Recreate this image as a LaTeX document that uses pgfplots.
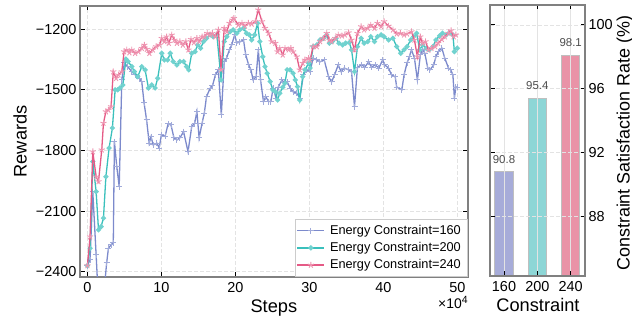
\documentclass[border=0pt]{standalone}
\usepackage{fontspec}
\setmainfont{Liberation Sans}
\usepackage{pgfplots}
\pgfplotsset{compat=1.18}
\definecolor{cA}{RGB}{124,138,204}
\definecolor{cB}{RGB}{58,192,188}
\definecolor{cC}{RGB}{229,90,134}
\definecolor{bA}{RGB}{167,172,217}
\definecolor{bB}{RGB}{141,214,214}
\definecolor{bC}{RGB}{233,147,167}
\definecolor{frame}{RGB}{128,128,128}
\newcommand{\tickfont}{\fontsize{14.5}{16}\selectfont}
\newcommand{\labfont}{\fontsize{18.3}{20}\selectfont}
\begin{document}
\begin{tikzpicture}
\begin{axis}[
  at={(80bp,46.3bp)}, anchor=south west, scale only axis,
  width=387.7bp, height=270.7bp,
  clip mode=individual,
  xmin=-1, xmax=51.4, ymin=-2425, ymax=-1085,
  xtick={0,10,20,30,40,50}, xticklabels={0,10,20,30,40,50},
  ytick={-2400,-2100,-1800,-1500,-1200},
  yticklabels={−2400,−2100,−1800,−1500,−1200},
  xticklabel style={font=\tickfont, inner sep=0pt, yshift=-5.2bp},
  yticklabel style={font=\tickfont, inner sep=0pt, xshift=-3.3bp},
  axis line style={draw=frame, line width=1.8bp},
  tick align=inside, major tick length=4.5bp,
  tick style={black, line width=1bp},
  xmajorgrids, ymajorgrids,
  major grid style={gray!22, line width=0.7bp, dash pattern=on 3.5bp off 2.5bp},
  xlabel={Steps}, ylabel={Rewards},
  xlabel style={font=\labfont, at={(axis description cs:0.5,-0.085)}, anchor=north, inner sep=0pt},
  ylabel style={font=\labfont, at={(axis description cs:-0.172,0.5)}, anchor=north, inner sep=0pt},
  legend style={at={(1,0)}, anchor=south east, draw=gray!40, line width=0.8bp, fill=white,
    font=\fontsize{12.8}{14}\selectfont, inner xsep=1.5bp, inner ysep=2.7bp, row sep=0pt,
    nodes={inner xsep=5bp, inner ysep=3.2bp}},
  legend cell align=left,
  legend image code/.code={\draw[#1,mark=none] (0bp,0bp) -- (27bp,0bp);
     \draw[#1,only marks] plot coordinates {(13.5bp,0bp)};},
]
\addplot[cA, line width=1.3bp, mark=+, mark size=3bp, mark options={solid, draw=cA!72!white, line width=1bp}] coordinates {
(0,-2370)(0.36,-2342)(0.73,-2005)(1.18,-2317)(1.5,-2550)(2.0,-2600)(2.6,-2357)(2.85,-2283)(3.2,-2268)(3.5,-2258)(3.65,-1756)(3.97,-1880)(4.3,-1979)(4.65,-1451)(5.0,-1367)(5.45,-1385)(6.0,-1410)(6.45,-1426)(7.0,-1443)(7.35,-1460)(7.66,-1565)(8.0,-1649)(8.35,-1764)(8.6,-1732)(8.9,-1773)(9.4,-1764)(9.7,-1788)(10.0,-1723)(10.5,-1731)(10.9,-1669)(11.3,-1674)(11.7,-1738)(12.1,-1748)(12.5,-1738)(13.0,-1707)(13.6,-1806)(14.1,-1682)(14.5,-1665)(14.8,-1608)(15.1,-1738)(15.5,-1665)(15.8,-1615)(16.1,-1534)(16.6,-1491)(16.9,-1481)(17.3,-1426)(17.7,-1401)(18.1,-1624)(18.5,-1360)(18.8,-1343)(19.2,-1302)(19.5,-1278)(19.9,-1228)(20.2,-1268)(20.6,-1263)(21.1,-1253)(21.4,-1327)(21.8,-1377)(22.1,-1401)(22.4,-1451)(22.8,-1435)(23.1,-1302)(23.4,-1451)(23.8,-1558)(24.1,-1534)(24.5,-1558)(24.8,-1558)(25.1,-1491)(25.5,-1541)(25.8,-1486)(26.3,-1451)(26.6,-1466)(27.0,-1461)(27.4,-1491)(27.8,-1510)(28.3,-1516)(28.7,-1541)(29.2,-1426)(29.6,-1401)(30.1,-1411)(30.5,-1343)(31.0,-1352)(31.4,-1362)(32.0,-1352)(32.6,-1435)(33.0,-1461)(33.4,-1426)(33.9,-1377)(34.3,-1411)(34.7,-1392)(35.3,-1401)(35.7,-1411)(36.1,-1584)(36.5,-1387)(37.1,-1377)(37.5,-1387)(38.0,-1362)(38.4,-1387)(38.9,-1377)(39.4,-1392)(39.9,-1352)(40.2,-1377)(40.7,-1392)(41.1,-1426)(41.6,-1435)(41.8,-1486)(42.5,-1500)(42.8,-1426)(43.2,-1367)(43.5,-1337)(43.8,-1302)(44.2,-1343)(44.6,-1451)(45.0,-1327)(45.3,-1302)(45.6,-1318)(46.0,-1392)(46.3,-1401)(46.8,-1377)(47.1,-1337)(47.4,-1312)(47.9,-1293)(48.3,-1343)(48.8,-1392)(49.1,-1401)(49.4,-1426)(49.6,-1541)(49.8,-1486)(50.0,-1486)
};
\addlegendentry{Energy Constraint=160}
\addplot[cB, line width=1.3bp, mark=*, mark size=1.9bp, mark options={solid, draw=cB!72!white, fill=cB!72!white}] coordinates {
(0,-2370)(0.36,-2284)(0.73,-1855)(1.18,-2004)(1.5,-2193)(1.85,-2177)(2.17,-2135)(2.5,-1930)(2.93,-1788)(3.38,-1689)(3.75,-1500)(4.1,-1500)(4.4,-1491)(4.8,-1476)(5.2,-1348)(5.5,-1360)(6.0,-1385)(6.35,-1410)(6.8,-1435)(7.35,-1385)(7.8,-1401)(8.25,-1491)(8.7,-1476)(9.15,-1491)(9.5,-1443)(10.05,-1319)(10.4,-1352)(10.85,-1352)(11.2,-1319)(11.6,-1360)(12.1,-1377)(12.5,-1360)(13.0,-1360)(13.4,-1385)(13.7,-1401)(14.1,-1319)(14.55,-1311)(14.9,-1278)(15.3,-1294)(15.7,-1261)(16.1,-1245)(16.6,-1228)(17.0,-1237)(17.5,-1228)(18.07,-1451)(18.5,-1261)(18.84,-1237)(19.3,-1212)(19.7,-1203)(20.2,-1220)(20.6,-1203)(21.1,-1195)(21.5,-1220)(21.9,-1228)(22.2,-1253)(22.6,-1228)(23.0,-1170)(23.3,-1261)(23.7,-1336)(24.0,-1385)(24.3,-1418)(24.7,-1459)(25.05,-1500)(25.4,-1509)(25.7,-1550)(26.0,-1517)(26.4,-1487)(26.7,-1467)(27.0,-1401)(27.4,-1401)(27.8,-1418)(28.1,-1451)(28.4,-1484)(28.7,-1550)(29.1,-1435)(29.4,-1401)(29.9,-1368)(30.1,-1392)(30.5,-1286)(31.0,-1278)(31.45,-1253)(31.9,-1245)(32.35,-1228)(32.7,-1269)(33.1,-1261)(33.6,-1245)(34.0,-1269)(34.5,-1278)(34.9,-1269)(35.4,-1266)(35.7,-1302)(36.1,-1410)(36.5,-1286)(37.0,-1245)(37.4,-1269)(37.9,-1261)(38.3,-1237)(38.8,-1261)(39.2,-1237)(39.7,-1228)(40.1,-1237)(40.7,-1253)(41.3,-1245)(41.8,-1286)(42.35,-1319)(42.8,-1302)(43.2,-1286)(43.7,-1253)(44.1,-1237)(44.5,-1220)(44.9,-1302)(45.3,-1278)(45.8,-1294)(46.2,-1302)(46.7,-1286)(47.1,-1253)(47.6,-1233)(48.0,-1220)(48.5,-1228)(48.9,-1217)(49.4,-1228)(49.6,-1311)(50.0,-1294)
};
\addlegendentry{Energy Constraint=200}
\addplot[cC, line width=1.3bp, mark=star, mark size=3.2bp, mark options={solid, draw=cC!65!white, line width=0.9bp}] coordinates {
(0,-2370)(0.36,-2227)(0.73,-1806)(1.18,-1930)(1.5,-1954)(1.94,-1797)(2.17,-1665)(2.5,-1608)(2.84,-1600)(3.2,-1583)(3.5,-1410)(3.88,-1443)(4.2,-1426)(4.65,-1410)(4.96,-1311)(5.32,-1302)(5.68,-1316)(6.0,-1302)(6.45,-1319)(6.9,-1311)(7.35,-1294)(7.7,-1278)(8.03,-1299)(8.38,-1319)(8.84,-1302)(9.28,-1286)(9.73,-1278)(10.05,-1245)(10.4,-1261)(10.7,-1237)(11.0,-1269)(11.4,-1228)(11.76,-1253)(12.1,-1269)(12.5,-1261)(12.9,-1278)(13.3,-1261)(13.65,-1302)(14.0,-1250)(14.4,-1266)(14.8,-1245)(15.1,-1261)(15.5,-1237)(15.8,-1237)(16.2,-1220)(16.6,-1228)(16.9,-1220)(17.3,-1237)(17.7,-1203)(18.07,-1401)(18.5,-1195)(18.84,-1212)(19.2,-1170)(19.6,-1154)(19.8,-1146)(20.4,-1179)(20.9,-1170)(21.3,-1184)(21.76,-1170)(22.2,-1174)(22.7,-1162)(23.1,-1104)(23.6,-1162)(24.0,-1195)(24.5,-1220)(24.9,-1261)(25.4,-1269)(25.7,-1311)(26.0,-1294)(26.4,-1327)(26.7,-1294)(27.2,-1302)(27.5,-1294)(27.8,-1311)(28.3,-1336)(28.7,-1401)(29.1,-1368)(29.4,-1352)(29.9,-1344)(30.1,-1352)(30.5,-1286)(31.0,-1286)(31.45,-1261)(31.9,-1245)(32.35,-1220)(32.7,-1253)(33.0,-1261)(33.5,-1245)(33.9,-1228)(34.4,-1233)(34.8,-1228)(35.3,-1217)(35.7,-1253)(36.1,-1302)(36.5,-1220)(37.0,-1187)(37.4,-1203)(37.9,-1195)(38.3,-1179)(38.8,-1195)(39.2,-1170)(39.7,-1187)(40.1,-1162)(40.7,-1184)(41.3,-1203)(41.8,-1223)(42.3,-1220)(42.8,-1228)(43.2,-1223)(43.8,-1212)(44.2,-1253)(44.6,-1336)(45.0,-1237)(45.3,-1269)(45.7,-1261)(46.1,-1302)(46.5,-1294)(47.0,-1286)(47.4,-1269)(47.9,-1250)(48.3,-1237)(48.8,-1220)(49.15,-1207)(49.5,-1237)(49.8,-1228)
};
\addlegendentry{Energy Constraint=240}
\node[font=\fontsize{14}{15}\selectfont, anchor=center, inner sep=0pt] at (rel axis cs:0.962,-0.094) {×10\raisebox{0.7ex}{\fontsize{10.5}{11}\selectfont 4}};
\end{axis}

\begin{axis}[
  at={(490bp,47bp)}, anchor=south west, scale only axis,
  width=95bp, height=271bp,
  xmin=-0.42, xmax=2.43, ymin=84.29, ymax=101.25,
  ybar, bar width=18.5bp, bar shift=0pt,
  xtick={0,1,2}, xticklabels={160,200,240},
  ytick={88,92,96,100}, yticklabels={88,92,96,100},
  yticklabel pos=right,
  xticklabel style={font=\tickfont, inner sep=0pt, yshift=-5.2bp},
  yticklabel style={font=\tickfont, inner sep=0pt, xshift=3.3bp},
  axis line style={draw=frame, line width=1.8bp},
  tick align=inside, major tick length=4.5bp,
  tick style={black, line width=1bp},
  axis on top,
  xmajorgrids, ymajorgrids,
  major grid style={gray!22, line width=0.8bp},
  every axis y grid/.append style={dash pattern=on 3.5bp off 2.5bp},
  xlabel={Constraint}, ylabel={Constraint Satisfaction Rate (\%)},
  xlabel style={font=\labfont, at={(axis description cs:0.505,-0.08)}, anchor=north, inner sep=0pt},
  ylabel style={font=\fontsize{18}{20}\selectfont, at={(axis description cs:1.33,0.49)}, anchor=north, inner sep=0pt},
  nodes near coords={\pgfmathprintnumber[fixed,fixed zerofill,precision=1,assume math mode=true]{\pgfplotspointmeta}},
  every node near coord/.append style={font=\fontsize{11.5}{12}\selectfont, text=black!70, yshift=5bp},
]
\addplot[fill=bA, draw=gray!50, line width=1bp] coordinates {(0,90.8)};
\addplot[fill=bB, draw=gray!50, line width=1bp] coordinates {(1,95.4)};
\addplot[fill=bC, draw=gray!50, line width=1bp] coordinates {(2,98.1)};
\end{axis}
\pgfresetboundingbox
\path[use as bounding box] (0,0) rectangle (632bp,323bp);
\end{tikzpicture}
\end{document}
